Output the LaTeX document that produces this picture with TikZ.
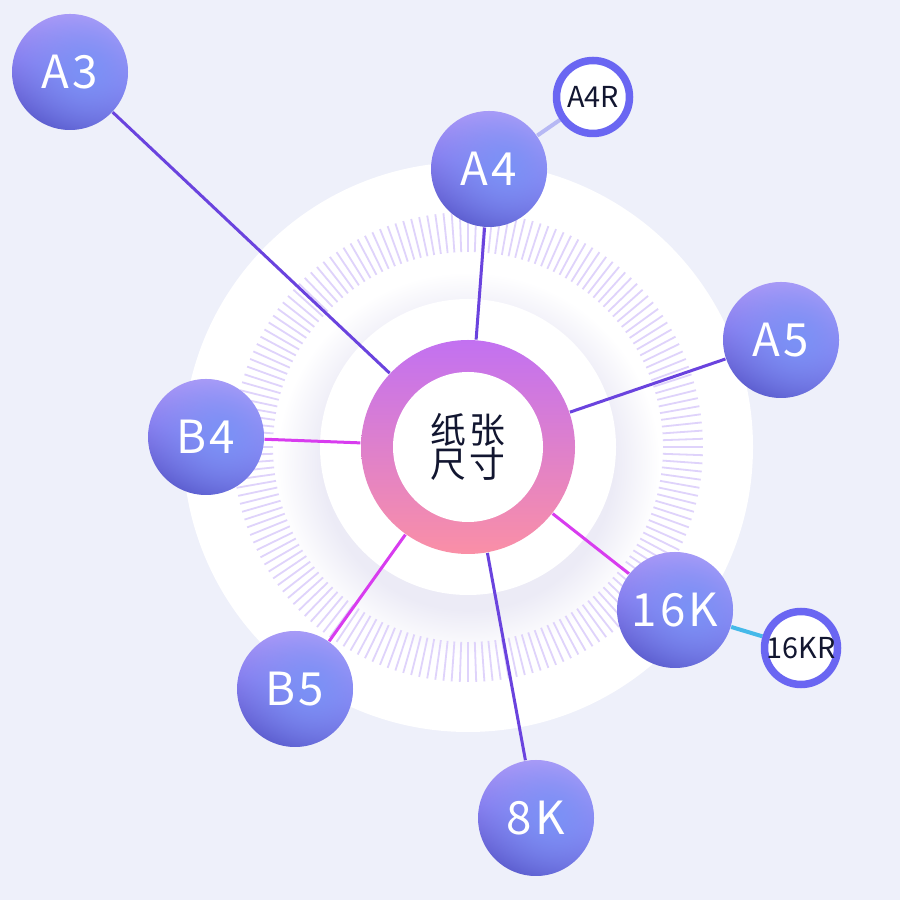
\documentclass[tikz,border=0pt]{standalone}
\usepackage{fontspec}
\setmainfont{Noto Sans CJK SC}
\newfontfamily\cimkefont[LetterSpace=7]{Noto Sans CJK SC}
\newfontfamily\kozepfont[LetterSpace=10]{Noto Sans CJK SC}
\usepackage{tikz}
\usetikzlibrary{positioning,calc,fadings}
\definecolor{hatter}{HTML}{EEF0FA}
\definecolor{tick}{HTML}{DFD3FB}
\definecolor{arny}{HTML}{ECEBF6}
\definecolor{gfent}{HTML}{BA9FF8}
\definecolor{gkozep}{HTML}{8A80F0}
\definecolor{glent}{HTML}{5856C9}
\definecolor{gkek}{HTML}{7A92F6}
\definecolor{gyuru1}{HTML}{C271F1}
\definecolor{gyuru2}{HTML}{FA8FA6}
\definecolor{keret}{HTML}{6A66F2}
\definecolor{szoveg}{HTML}{121630}
\definecolor{lila}{HTML}{6A43DE}
\definecolor{magenta}{HTML}{D83CEF}
\definecolor{halvany}{HTML}{B6B8F4}
\definecolor{cian}{HTML}{45B9E9}
\pgfdeclareradialshading{arnyek}{\pgfpointorigin}{color(0bp)=(arny); color(19bp)=(arny); color(25bp)=(white); color(50bp)=(white)}
\tikzfading[name=fenyfolt, inner color=transparent!0, outer color=transparent!100]
\pgfdeclarelayer{hat}
\pgfdeclarelayer{vonalak}
\pgfsetlayers{hat,vonalak,main}
\tikzset{
  golyo/.style={circle,minimum size=11.6mm,inner sep=0pt,text=white,
    top color=gfent,bottom color=glent,middle color=gkozep,shading angle=-15,
    font=\cimkefont\fontsize{13}{13}\selectfont,
    path picture={\fill[gkek,path fading=fenyfolt]
      ($(path picture bounding box.center)+(1.6mm,0.2mm)$) circle (8mm);}},
  kis/.style={circle,draw=keret,line width=0.75mm,fill=white,minimum size=7.3mm,
    inner sep=0pt,text=szoveg,font=\fontsize{8.2}{8.2}\selectfont},
  kozepkor/.style={circle,minimum size=21.4mm,inner sep=0pt,top color=gyuru1,bottom color=gyuru2,
    align=center,text=szoveg,font=\kozepfont\fontsize{10.2}{9.8}\selectfont,
    path picture={\fill[white] (path picture bounding box.center) circle (7.5mm);}},
  link/.style={line width=0.3mm},
  tag/.style={line width=0.4mm},
}

\begin{document}
\begin{tikzpicture}[x=0.1mm,y=0.1mm]
  \useasboundingbox (0,0) rectangle (900,900);
  \begin{pgfonlayer}{hat}
    \fill[hatter] (0,0) rectangle (900,900);
    \fill[white] (468,453) circle (285);
    \shade[shading=arnyek] (468,436) circle (192);
    \fill[white] (468,453) circle (148);
    \foreach \s in {0,2,...,358}
      \draw[tick,line width=0.18mm] ($(468,453)+(\s:19.5mm)$) -- ($(468,453)+(\s:23.5mm)$);
  \end{pgfonlayer}

  \node[kozepkor] (kozep) at (468,453) {纸张\\尺寸};

  \node[golyo] (a3) at (70,828) {A3};
  \node[golyo] (a4) at (489,731) {A4};
  \node[golyo] (a5) at (781,560) {A5};
  \node[golyo] (b4) at (206,463) {B4};
  \node[golyo] (b5) at (295,211) {B5};
  \node[golyo] (k8) at (536,82) {8K};
  \node[golyo] (k16) at (675,290) {16K};
  \node[kis] (a4r) at (593,803) {A4R};
  \node[kis] (k16r) at (801,252) {16KR};

  \begin{pgfonlayer}{vonalak}
    \draw[link,lila] (kozep) -- (a3);
    \draw[link,lila] (kozep) -- (a4);
    \draw[link,lila] (kozep) -- (a5);
    \draw[link,lila] (kozep) -- (k8);
    \draw[link,magenta] (kozep) -- (b4);
    \draw[link,magenta] (kozep) -- (b5);
    \draw[link,magenta] (kozep) -- (k16);
    \draw[tag,halvany] (a4) -- (a4r);
    \draw[tag,cian] (k16) -- (k16r);
  \end{pgfonlayer}
\end{tikzpicture}
\end{document}
